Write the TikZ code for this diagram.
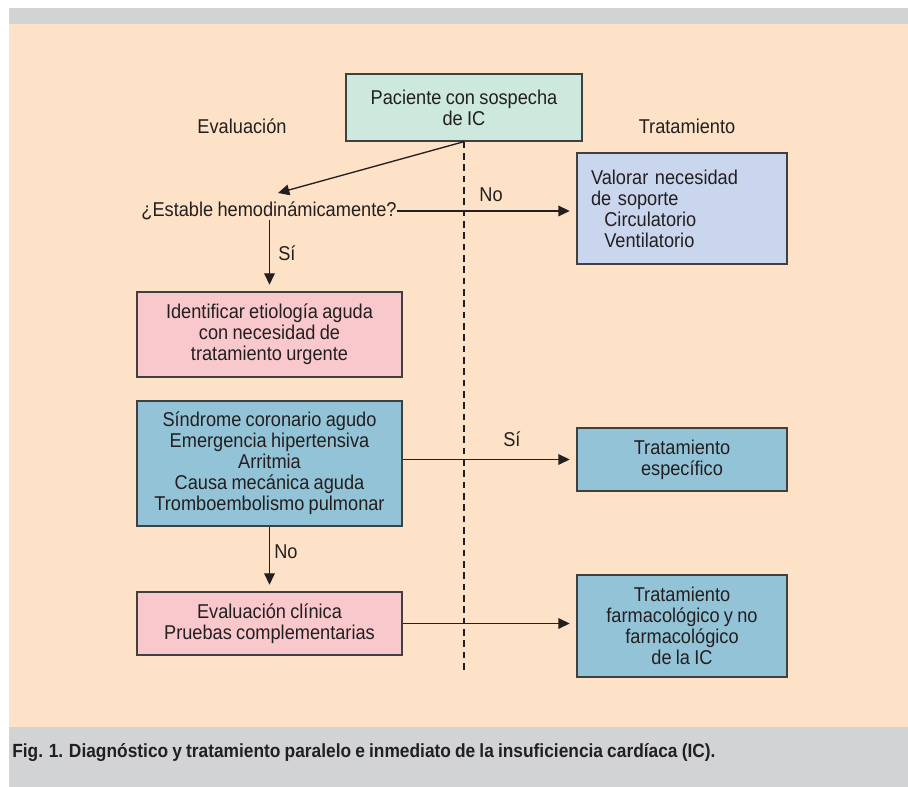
\documentclass[tikz,border=0pt]{standalone}
\usepackage{fontspec}
\setmainfont{Liberation Sans}[FakeStretch=0.91,WordSpace=0.85]
\usetikzlibrary{arrows.meta}

\definecolor{peach}{RGB}{253,226,199}
\definecolor{band}{RGB}{209,211,212}
\definecolor{boxgreen}{RGB}{205,232,220}
\definecolor{boxlila}{RGB}{202,214,238}
\definecolor{boxblue}{RGB}{147,195,214}
\definecolor{boxpink}{RGB}{248,200,204}
\definecolor{ink}{RGB}{35,31,32}
\definecolor{edge}{RGB}{64,64,64}

\tikzset{
  caja/.style={draw=edge,line width=1pt,align=center,inner sep=0pt,text=ink,
    font=\fontsize{15}{15.75}\selectfont},
  rotulo/.style={inner sep=0pt,text=ink,font=\fontsize{15}{15.75}\selectfont},
  flecha/.style={draw=ink,line width=1pt,-{Triangle[length=8.5pt,width=8pt]},shorten >=5pt},
}

\begin{document}
\begin{tikzpicture}[x=0.75pt,y=-0.75pt]
\useasboundingbox (0,0) rectangle (908,787);
%\draw[gray,very thin] (0,0) grid[step=50] (908,787);
\fill[band] (9,8) rectangle (908,24);
\fill[peach] (9,24) rectangle (908,727);
\fill[band] (9,727) rectangle (908,787);

\node[rotulo] (eval) at (242,126) {Evaluación};
\node[rotulo] (trat) at (687,126) {Tratamiento};

\node[caja,fill=boxgreen,minimum width=177pt,minimum height=50.25pt] (pac) at (464,107.5)
  {Paciente con sospecha\\de IC};
\node[rotulo] (est) at (269,211) {¿Estable hemodinámicamente?};
\node[caja,fill=boxlila,minimum width=157.5pt,minimum height=83.25pt,
  text width=136.5pt,align=left] (val) at (682,208.5)
  {Valorar necesidad\\de soporte\\\hspace*{10pt}Circulatorio\\\hspace*{10pt}Ventilatorio};
\node[caja,fill=boxpink,minimum width=198.75pt,minimum height=63.75pt] (id) at (269.5,334.5)
  {Identificar etiología aguda\\con necesidad de\\tratamiento urgente};
\node[caja,fill=boxblue,minimum width=198.75pt,minimum height=93.75pt] (sin) at (269.5,463.5)
  {Síndrome coronario agudo\\Emergencia hipertensiva\\Arritmia\\Causa mecánica aguda\\Tromboembolismo pulmonar};
\node[caja,fill=boxblue,minimum width=157.5pt,minimum height=47.25pt] (te) at (682,459.5)
  {Tratamiento\\específico};
\node[caja,fill=boxpink,minimum width=198.75pt,minimum height=47.25pt] (ev) at (269.5,623.5)
  {Evaluación clínica\\Pruebas complementarias};
\node[caja,fill=boxblue,minimum width=157.5pt,minimum height=76.5pt] (tf) at (682,626)
  {Tratamiento\\farmacológico y no\\farmacológico\\de la IC};

% line between the two columns
\coordinate (fin) at (464,673);
\draw[ink,line width=0.8pt,dash pattern=on 5pt off 3.5pt] (pac.south) -- (fin);

\coordinate (esttop) at (278,193);
\draw[flecha,shorten >=0pt] (pac.south) -- (esttop);
\draw[flecha] (est.east) -- (est.east -| val.west);
\draw[flecha] (est.south -| id.north) -- (id.north);
\draw[flecha] (sin.east |- te.west) -- (te.west);
\draw[flecha] (sin.south) -- (ev.north);
\draw[flecha] (ev.east) -- (ev.east -| tf.west);

\node[rotulo] (no1) at (491,195) {No};
\node[rotulo,anchor=west] (si1) at (278,253) {Sí};
\node[rotulo,anchor=west] (si2) at (503,439) {Sí};
\node[rotulo,anchor=west] (no2) at (274,552) {No};

\node[rotulo,anchor=west,font=\fontsize{14.3}{16}\selectfont\bfseries] (pie) at (12,753)
  {Fig. 1. Diagnóstico y tratamiento paralelo e inmediato de la insuficiencia cardíaca (IC).};
\end{tikzpicture}
\end{document}
